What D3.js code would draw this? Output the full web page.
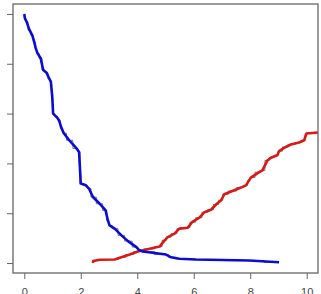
<!DOCTYPE html>
<html>
<head>
<meta charset="utf-8">
<script src="https://cdn.jsdelivr.net/npm/d3@7"></script>
<style>
  body { margin: 0; background: #fff; }
  text { font-family: 'Liberation Sans', Arial, sans-serif; }
</style>
</head>
<body>
<div id="chart"></div>
<script>
// blue curve (decreasing)
const blueX = [0, 0.02, 0.08, 0.18, 0.28, 0.35, 0.40, 0.47, 0.58, 0.67, 0.79, 0.88, 0.94, 0.99, 1.02, 1.14, 1.23, 1.32, 1.40, 1.59, 1.85, 1.94, 2.00, 2.18, 2.29, 2.43, 2.67, 2.88, 2.96, 3.02, 3.20, 3.44, 3.67, 3.97, 4.06, 4.20, 5.02, 5.20, 5.49, 6.08, 7.96, 9.02]
const blueY = [1.0, 0.983, 0.969, 0.936, 0.915, 0.889, 0.864, 0.842, 0.822, 0.775, 0.764, 0.741, 0.728, 0.667, 0.600, 0.587, 0.573, 0.541, 0.521, 0.493, 0.460, 0.446, 0.319, 0.312, 0.299, 0.265, 0.238, 0.211, 0.171, 0.151, 0.138, 0.111, 0.088, 0.064, 0.053, 0.046, 0.034, 0.023, 0.017, 0.014, 0.010, 0.003]

// red curve (increasing)
const redX = [2.43, 2.44, 2.67, 3.20, 3.44, 3.73, 4.02, 4.44, 4.79, 4.97, 5.08, 5.32, 5.49, 5.79, 5.94, 6.20, 6.38, 6.61, 6.79, 6.97, 7.08, 7.37, 7.67, 7.85, 7.96, 8.02, 8.32, 8.43, 8.61, 8.73, 8.96, 9.02, 9.26, 9.44, 9.73, 9.91, 9.99, 10.20, 10.40]
const redY = [0.0, 0.008, 0.013, 0.014, 0.023, 0.034, 0.046, 0.057, 0.066, 0.091, 0.104, 0.118, 0.138, 0.142, 0.164, 0.182, 0.204, 0.214, 0.235, 0.252, 0.276, 0.289, 0.303, 0.312, 0.332, 0.343, 0.365, 0.372, 0.412, 0.423, 0.433, 0.449, 0.466, 0.476, 0.484, 0.493, 0.520, 0.522, 0.524]

const xTicks = [0, 2, 4, 6, 8, 10]
const yTicks = [0, 0.2, 0.4, 0.6, 0.8, 1.0]

const width = 321, height = 294
const plot = { left: 13, top: 4, right: 318, bottom: 273 }

const svg = d3
  .select('#chart')
  .append('svg')
  .attr('width', width)
  .attr('height', height)

// R style 4% padding around the data range
const x = d3.scaleLinear().domain([-0.4, 10.4]).range([plot.left, plot.right])
const y = d3.scaleLinear().domain([-0.04, 1.04]).range([plot.bottom, plot.top])

svg.append('defs')
  .append('clipPath')
  .attr('id', 'clip')
  .append('rect')
  .attr('x', plot.left)
  .attr('y', plot.top)
  .attr('width', plot.right - plot.left)
  .attr('height', plot.bottom - plot.top)

const blue = blueX.map((d, i) => ({ x: d, y: blueY[i] }))
const red = redX.map((d, i) => ({ x: d, y: redY[i] }))

const g = svg.append('g').attr('clip-path', 'url(#clip)')

const step = d3.line().x(d => x(d.x)).y(d => y(d.y)).curve(d3.curveStep)
const smooth = d3.line().x(d => x(d.x)).y(d => y(d.y))

// thin step functions underneath
g.append('path').datum(blue).attr('d', step)
  .attr('fill', 'none').attr('stroke', '#444').attr('stroke-width', 0.7)
g.append('path').datum(red).attr('d', step)
  .attr('fill', 'none').attr('stroke', '#444').attr('stroke-width', 0.7)

g.append('path').datum(red).attr('d', smooth)
  .attr('fill', 'none').attr('stroke', '#d61a1a').attr('stroke-width', 2.6)
  .attr('stroke-linejoin', 'round')
g.append('path').datum(blue).attr('d', smooth)
  .attr('fill', 'none').attr('stroke', '#0c0cd0').attr('stroke-width', 2.6)
  .attr('stroke-linejoin', 'round')

// axes
const xAxis = d3.axisBottom(x).tickValues(xTicks).tickSize(6).tickPadding(9).tickFormat(d3.format('d'))
const yAxis = d3.axisLeft(y).tickValues(yTicks).tickSize(6).tickFormat(d3.format('.1f'))

const gx = svg.append('g').attr('transform', `translate(0, ${plot.bottom})`).call(xAxis)
gx.select('.domain').remove()
gx.selectAll('line').attr('stroke', '#666')
gx.selectAll('text').attr('fill', '#444').style('font-size', '11px')

const gy = svg.append('g').attr('transform', `translate(${plot.left}, 0)`).call(yAxis)
gy.select('.domain').remove()
gy.selectAll('line').attr('stroke', '#666')
gy.selectAll('text')
  .attr('fill', '#444')
  .style('font-size', '11px')
  .attr('text-anchor', 'middle')
  .attr('x', null).attr('dy', null)
  .attr('transform', 'translate(-14, 0) rotate(-90)')

// frame
svg.append('rect')
  .attr('x', plot.left)
  .attr('y', plot.top)
  .attr('width', plot.right - plot.left)
  .attr('height', plot.bottom - plot.top)
  .attr('fill', 'none')
  .attr('stroke', '#666')
  .attr('stroke-width', 1.3)
</script>
</body>
</html>
